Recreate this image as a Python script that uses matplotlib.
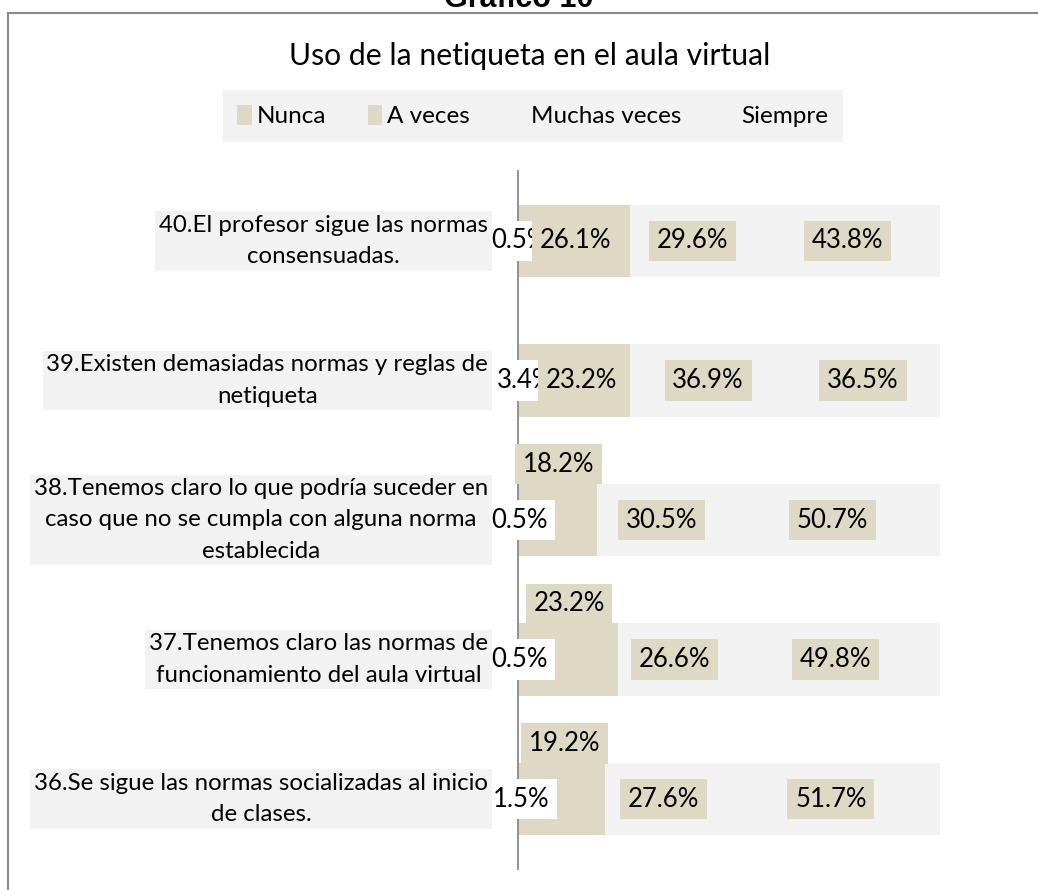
import matplotlib
matplotlib.use("Agg")
import matplotlib.pyplot as plt
from matplotlib.patches import Patch, Rectangle

plt.rcParams['font.family'] = ['Lato', 'DejaVu Sans']

# ---- data (top to bottom as displayed) ----
categories = [
    "40.El profesor sigue las normas\nconsensuadas.",
    "39.Existen demasiadas normas y reglas de\nnetiqueta",
    "38.Tenemos claro lo que podría suceder en\ncaso que no se cumpla con alguna norma\nestablecida",
    "37.Tenemos claro las normas de\nfuncionamiento del aula virtual",
    "36.Se sigue las normas socializadas al inicio\nde clases.",
]
series_names = ["Nunca", "A veces", "Muchas veces", "Siempre"]
nunca = [0.5, 3.4, 0.5, 0.5, 1.5]
a_veces = [26.1, 23.2, 18.2, 23.2, 19.2]
muchas_veces = [29.6, 36.9, 30.5, 26.6, 27.6]
siempre = [43.8, 36.5, 50.7, 49.8, 51.7]
chart_title = "Uso de la netiqueta en el aula virtual"
fig_title = "Gráfico 10"

# ---- styles ----
BEIGE = "#ddd9c4"
LIGHT = "#f2f2f2"
series_colors = [BEIGE, BEIGE, LIGHT, LIGHT]
a_veces_label_above = [False, False, True, True, True]
FS_DATA = 18.5
FS_CAT = 17.3

W, H = 1038, 890
fig = plt.figure(figsize=(W / 100, H / 100), dpi=100)

# outer border
fig.patches.append(Rectangle((8 / W, -0.05), 1.2, (H - 13) / H + 0.05,
                             transform=fig.transFigure, fill=False,
                             edgecolor="#8a8a8a", linewidth=1.5))
fig.text(519 / W, 1 - 7 / H, fig_title, ha="center", va="baseline",
         fontsize=22, fontweight="bold", family="Liberation Sans")
fig.text(530 / W, 1 - 56 / H, chart_title, ha="center", va="center",
         fontsize=21.7)

ax = fig.add_axes([518 / W, 21 / H, 422 / W, 698 / H])
n = len(categories)
ys = [n - 1 - i for i in range(n)]
series = [nunca, a_veces, muchas_veces, siempre]
lefts = [0.0] * n
segs = []
for vals, col in zip(series, series_colors):
    ax.barh(ys, vals, left=lefts, height=0.52, color=col, edgecolor="none", zorder=2)
    segs.append([(l, v) for l, v in zip(lefts, vals)])
    lefts = [l + v for l, v in zip(lefts, vals)]

ax.set_xlim(0, 100)
ax.set_ylim(-0.5, n - 0.5)
for s in ["top", "right", "bottom"]:
    ax.spines[s].set_visible(False)
ax.spines["left"].set_color("#8a8a8a")
ax.spines["left"].set_linewidth(1.3)
ax.spines["left"].set_zorder(3)
ax.set_xticks([])
ax.set_yticks([])

# category labels
for i, (y, lab) in enumerate(zip(ys, categories)):
    ax.annotate(lab, xy=(0, y), xytext=(-30, 0), textcoords="offset pixels",
                ha="right", va="center", multialignment="center",
                fontsize=FS_CAT, linespacing=1.6, zorder=5.5, annotation_clip=False,
                bbox=dict(boxstyle="square,pad=0.15", fc=LIGHT, ec="none"))

def lab(x, y, v, fc, dy=0.0, z=5):
    ax.text(x, y + dy, f"{v:.1f}%", ha="center", va="center", fontsize=FS_DATA,
            zorder=z, clip_on=False,
            bbox=dict(boxstyle="square,pad=0.3", fc=fc, ec="none"))

for i, y in enumerate(ys):
    l, v = segs[0][i]
    lab(l + v / 2, y, v, "white", z=5)
    l, v = segs[1][i]
    if a_veces_label_above[i]:
        lab(l + v / 2, y, v, BEIGE, dy=0.40, z=6)
    else:
        lab(l + v / 2, y, v, BEIGE, z=6)
    l, v = segs[2][i]
    lab(l + v / 2, y, v, BEIGE, z=6)
    l, v = segs[3][i]
    lab(l + v / 2, y, v, BEIGE, z=6)

handles = [Patch(facecolor=c, edgecolor="none") for c in series_colors]
leg = fig.legend(handles, series_names, loc="center", bbox_to_anchor=(533 / W, 1 - 116 / H),
                 ncol=4, frameon=True, fancybox=False, fontsize=17.5,
                 handlelength=0.6, handleheight=0.9, handletextpad=0.2,
                 columnspacing=1.7, borderpad=0.6)
leg.get_frame().set_facecolor(LIGHT)
leg.get_frame().set_edgecolor("none")
leg.get_frame().set_alpha(1)

fig.savefig("out.png", dpi=100)
